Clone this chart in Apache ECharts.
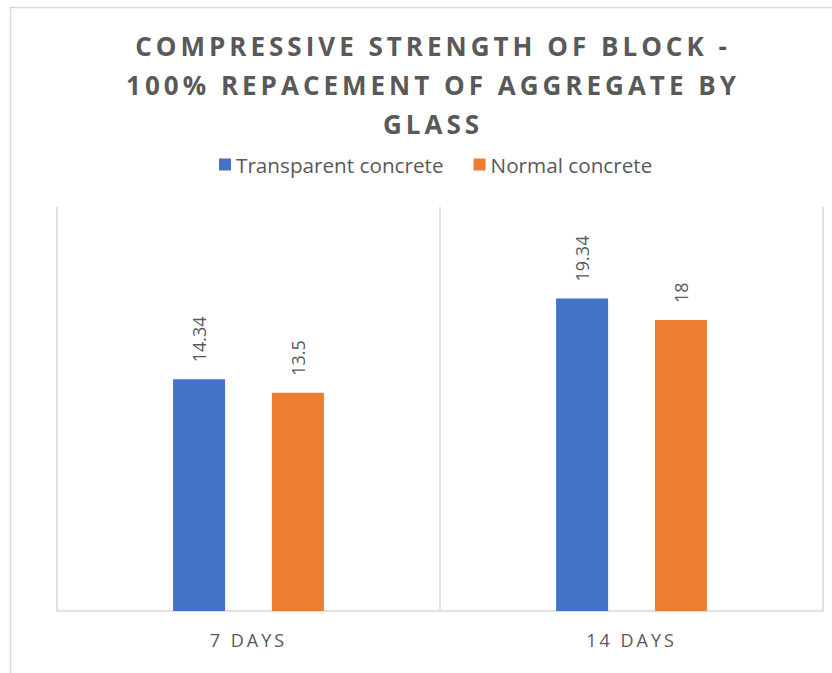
<!DOCTYPE html>
<html>
<head>
<meta charset="utf-8">
<script src="https://cdn.jsdelivr.net/npm/echarts@6/dist/echarts.min.js"></script>
<style>
  html, body { margin: 0; padding: 0; background: #fff; }
  #chart { width: 832px; height: 673px; }
</style>
</head>
<body>
<div id="chart"></div>
<script>
const categories = ['7 DAYS', '14 DAYS'];
const seriesNames = ['Transparent concrete', 'Normal concrete'];
const transparentValues = [14.34, 19.34];
const normalValues = [13.5, 18];
const titleText = 'COMPRESSIVE STRENGTH OF BLOCK -\n100% REPACEMENT OF AGGREGATE BY\nGLASS';

const FONT = "'Open Sans', sans-serif";
const GRAY = '#595959';

const chart = echarts.init(document.getElementById('chart'), null, { renderer: 'svg' });

const option = {
  animation: false,
  backgroundColor: '#ffffff',
  color: ['#4472C4', '#ED7D31'],
  graphic: [{
    type: 'rect',
    shape: { x: 10.5, y: 7.5, width: 900, height: 900 },
    style: { fill: 'none', stroke: '#d9d9d9', lineWidth: 1.5 },
    silent: true,
    z: -10
  }],
  title: {
    text: titleText,
    left: 428,
    top: 21,
    textAlign: 'center',
    textStyle: {
      fontFamily: FONT,
      fontWeight: 'bold',
      fontSize: 26,
      lineHeight: 39,
      color: GRAY
    }
  },
  legend: {
    data: seriesNames,
    left: 214,
    top: 149,
    itemWidth: 12,
    itemHeight: 12,
    itemGap: 30,
    icon: 'rect',
    textStyle: { fontFamily: FONT, fontSize: 20.7, color: GRAY }
  },
  grid: { left: 57, right: 9, top: 207, bottom: 62, containLabel: false },
  xAxis: {
    type: 'category',
    data: categories,
    axisLine: { show: true, lineStyle: { color: '#d9d9d9', width: 1.5 } },
    axisTick: { show: false },
    splitLine: { show: true, lineStyle: { color: '#d9d9d9', width: 1.5 } },
    axisLabel: { fontFamily: FONT, fontSize: 18, color: GRAY, margin: 20 }
  },
  yAxis: {
    type: 'value',
    min: 0,
    max: 25,
    show: false,
    splitLine: { show: false }
  },
  series: [
    {
      name: seriesNames[0],
      type: 'bar',
      data: transparentValues,
      barWidth: 52,
      barGap: '90%',
      label: {
        show: true, position: 'top', rotate: 90, distance: 17,
        align: 'left', verticalAlign: 'middle',
        fontFamily: FONT, fontSize: 18, color: GRAY
      }
    },
    {
      name: seriesNames[1],
      type: 'bar',
      data: normalValues,
      barWidth: 52,
      barGap: '90%',
      label: {
        show: true, position: 'top', rotate: 90, distance: 17,
        align: 'left', verticalAlign: 'middle',
        fontFamily: FONT, fontSize: 18, color: GRAY
      }
    }
  ]
};

chart.setOption(option);

function applySpacing() {
  const texts = document.querySelectorAll('#chart text');
  texts.forEach(t => {
    const s = (t.textContent || '').trim();
    if (s.indexOf('COMPRESSIVE') >= 0 || s.indexOf('REPACEMENT') >= 0 || s === 'GLASS') {
      t.style.letterSpacing = '4px';
    } else if (categories.indexOf(s) >= 0) {
      t.style.letterSpacing = '3px';
    }
  });
}
chart.on('finished', applySpacing);
setTimeout(applySpacing, 50);
setTimeout(applySpacing, 300);
</script>
</body>
</html>
